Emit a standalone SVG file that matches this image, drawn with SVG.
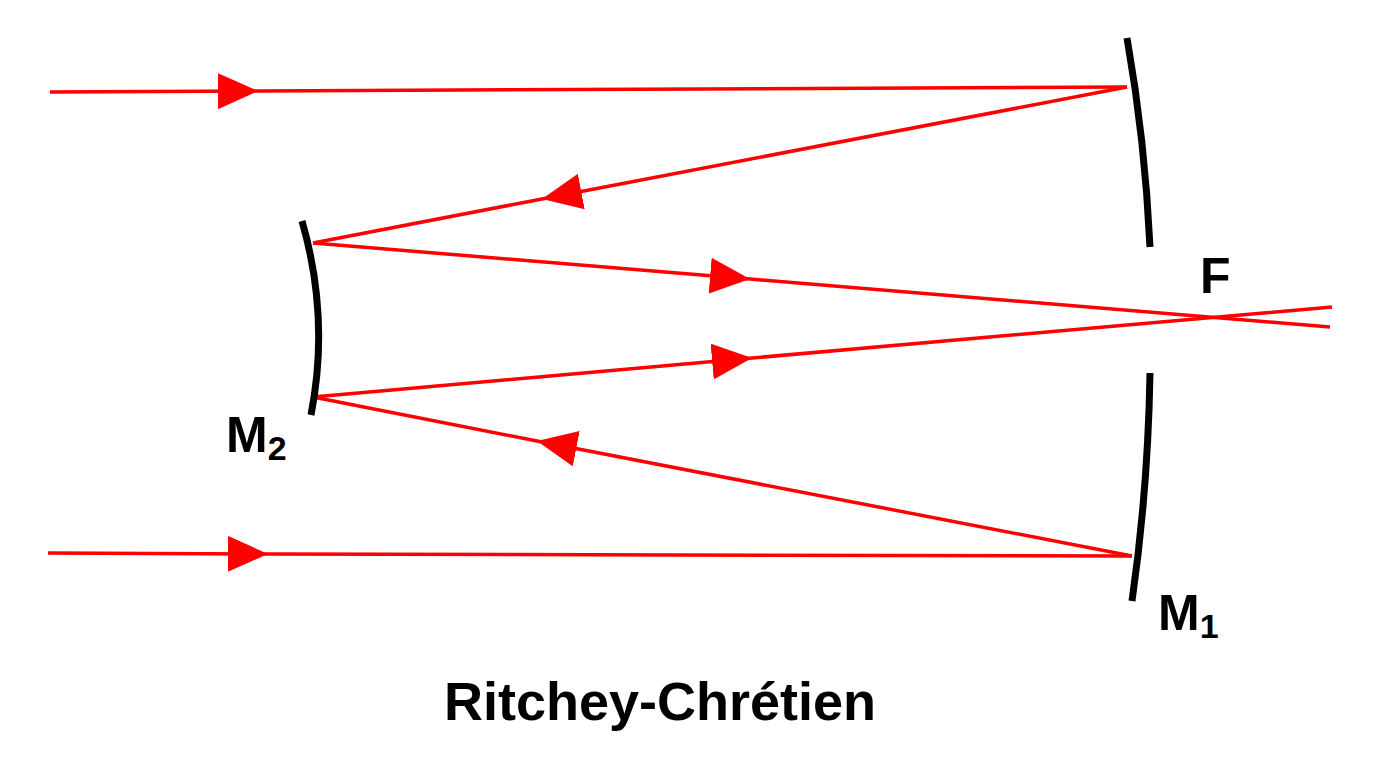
<svg xmlns="http://www.w3.org/2000/svg" width="1399" height="778" viewBox="0 0 1399 778">
<style>
.ray{stroke:#f00;stroke-width:3.5;fill:none;marker-mid:url(#ah)}
.mir{stroke:#000;stroke-width:7;fill:none}
text{font-family:"Liberation Sans",Arial,sans-serif;font-weight:bold;fill:#000}
</style>
<defs>
<marker id="ah" markerUnits="userSpaceOnUse" markerWidth="42" markerHeight="36" refX="40" refY="18" orient="auto" viewBox="0 0 42 36">
<path d="M0,0 L40,18 L0,36 Z" fill="#f00"/>
</marker>
</defs>
<g id="connectors">
<polyline class="ray" points="50,92 258,91 1127,87"/>
<polyline class="ray" points="1127,87 542,199 313,243"/>
<polyline class="ray" points="313,243 750,279 1330,327"/>
<polyline class="ray" points="48,553 268,554 1132,556"/>
<polyline class="ray" points="1132,556 537,441 313,397"/>
<polyline class="ray" points="313,397 752,358 1332,307"/>
</g>
<g id="M1">
<path class="mir" d="M1127,38 Q1145,140 1150,247"/>
<path class="mir" d="M1150,373 Q1148,490 1132,601"/>
<text x="1158" y="630" font-size="50">M<tspan font-size="34" dy="8">1</tspan></text>
</g>
<g id="M2">
<path class="mir" d="M302,221 Q330,318 311,415"/>
<text x="226" y="452" font-size="50">M<tspan font-size="34" dy="8">2</tspan></text>
</g>
<g id="F"><text x="1200" y="293" font-size="50">F</text></g>
<g id="title"><text x="660" y="720" font-size="54" text-anchor="middle">Ritchey-Chrétien</text></g>
</svg>
